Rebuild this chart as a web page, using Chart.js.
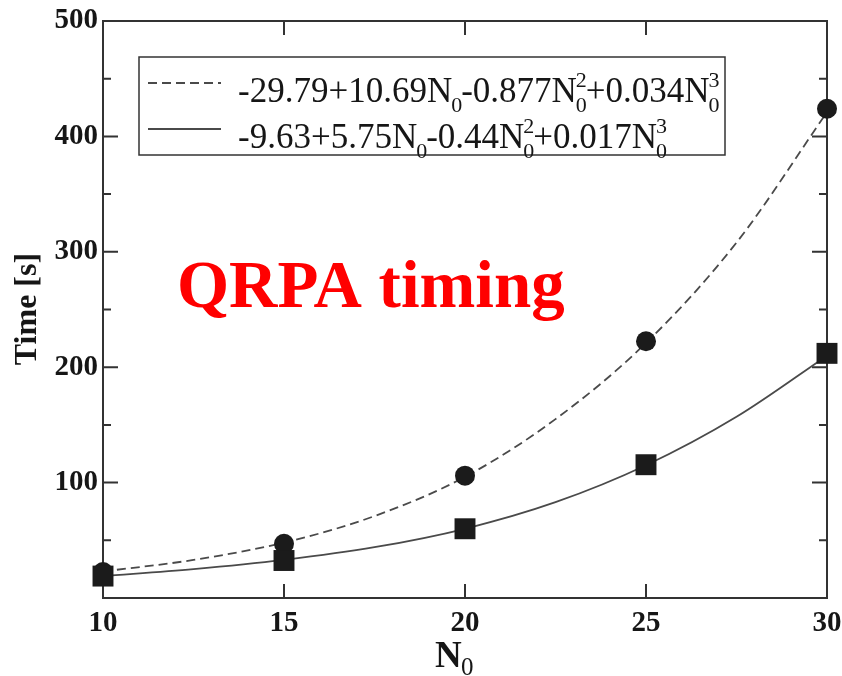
<!DOCTYPE html>
<html>
<head>
<meta charset="utf-8">
<title>QRPA timing</title>
<script src="https://cdn.jsdelivr.net/npm/chart.js@4.4.1/dist/chart.umd.min.js"></script>
<style>
  body { margin: 0; background: #ffffff; }
  #wrap { width: 842px; height: 676px; position: relative; }
</style>
</head>
<body>
<div id="wrap"><canvas id="timing"></canvas></div>
<script>
// measured run times
const n0 = [10, 15, 20, 25, 30];
const timeCircles = [22.5, 47, 106, 222.5, 424];
const timeSquares = [19, 32.5, 60, 115.5, 212];

// fitted cubic curves, read every 2.5 in N0
const fitN0 = [10, 12.5, 15, 17.5, 20, 22.5, 25, 27.5, 30];
const fitDashed = [23, 33, 48, 71, 105, 155, 221, 308, 421];
const fitSolid = [19, 25, 33, 44, 60, 83, 115, 157, 210];

const xTicks = [10, 15, 20, 25, 30];
const yTicks = [100, 200, 300, 400, 500];
const yMinor = [50, 150, 250, 350, 450];

// legend text pieces: [text, subscript, superscript]
const legendRows = [
  [['-29.79+10.69N', '0'], ['-0.877N', '0', '2'], ['+0.034N', '0', '3']],
  [['-9.63+5.75N', '0'], ['-0.44N', '0', '2'], ['+0.017N', '0', '3']]
];
const legendDash = [[9, 5], []];

const INK = '#161616';
const LINE = '#4a4a4a';
const SERIF = '"Liberation Serif", "Times New Roman", serif';

const pts = (xs, ys) => xs.map((x, i) => ({ x: x, y: ys[i] }));

// frame, inner ticks, legend box and the extra labels
const decor = {
  id: 'decor',
  beforeDatasetsDraw(chart) {
    const { ctx, chartArea: a, scales: { x, y } } = chart;
    ctx.save();
    ctx.strokeStyle = '#333';
    ctx.lineWidth = 2;
    ctx.strokeRect(a.left, a.top, a.right - a.left, a.bottom - a.top);
    ctx.beginPath();
    yTicks.forEach(v => {
      const py = y.getPixelForValue(v);
      ctx.moveTo(a.left, py); ctx.lineTo(a.left + 15, py);
      ctx.moveTo(a.right, py); ctx.lineTo(a.right - 15, py);
    });
    yMinor.forEach(v => {
      const py = y.getPixelForValue(v);
      ctx.moveTo(a.left, py); ctx.lineTo(a.left + 8, py);
      ctx.moveTo(a.right, py); ctx.lineTo(a.right - 8, py);
    });
    xTicks.slice(1, -1).forEach(v => {
      const px = x.getPixelForValue(v);
      ctx.moveTo(px, a.bottom); ctx.lineTo(px, a.bottom - 14);
      ctx.moveTo(px, a.top); ctx.lineTo(px, a.top + 14);
    });
    ctx.stroke();
    ctx.restore();
  },
  afterDraw(chart) {
    const ctx = chart.ctx;
    ctx.save();

    // legend
    ctx.fillStyle = '#fff';
    ctx.fillRect(139, 57, 586, 98);
    ctx.strokeStyle = '#333';
    ctx.lineWidth = 1.5;
    ctx.strokeRect(139, 57, 586, 98);

    const bases = [102, 148];
    legendRows.forEach((row, r) => {
      const base = bases[r];
      ctx.strokeStyle = LINE;
      ctx.lineWidth = 1.8;
      ctx.setLineDash(legendDash[r]);
      ctx.beginPath();
      ctx.moveTo(148, base - 19);
      ctx.lineTo(221, base - 19);
      ctx.stroke();
      ctx.setLineDash([]);

      ctx.fillStyle = INK;
      ctx.textAlign = 'left';
      ctx.textBaseline = 'alphabetic';
      let px = 238;
      row.forEach(([txt, sub, sup]) => {
        ctx.font = '35px ' + SERIF;
        ctx.fillText(txt, px, base);
        px += ctx.measureText(txt).width - 1;
        ctx.font = '22px ' + SERIF;
        let w = 0;
        if (sub) { ctx.fillText(sub, px, base + 10); w = ctx.measureText(sub).width; }
        if (sup) { ctx.fillText(sup, px, base - 15); w = Math.max(w, ctx.measureText(sup).width); }
        px += w - 1;
      });
    });

    // axis titles
    ctx.fillStyle = INK;
    ctx.font = 'bold 37px ' + SERIF;
    ctx.fillText('N', 435, 667);
    ctx.font = '25px ' + SERIF;
    ctx.fillText('0', 461, 675);

    ctx.save();
    ctx.translate(28, 309);
    ctx.rotate(-Math.PI / 2);
    ctx.textAlign = 'center';
    ctx.textBaseline = 'middle';
    ctx.font = 'bold 32px ' + SERIF;
    ctx.fillText('Time [s]', 0, 0);
    ctx.restore();

    // red caption
    ctx.fillStyle = '#ff0000';
    ctx.font = 'bold 67px ' + SERIF;
    ctx.textAlign = 'left';
    ctx.fillText('QRPA timing', 177, 307);

    ctx.restore();
  }
};

const tickFont = { family: SERIF, size: 29, weight: 'bold' };

new Chart(document.getElementById('timing'), {
  type: 'line',
  data: {
    datasets: [
      {
        data: pts(n0, timeCircles),
        showLine: false,
        pointStyle: 'circle',
        pointRadius: 10,
        pointBorderWidth: 0,
        backgroundColor: '#1b1b1b',
        borderColor: '#1b1b1b',
        clip: false,
        order: 1
      },
      {
        data: pts(n0, timeSquares),
        showLine: false,
        pointStyle: 'rect',
        pointRadius: 14.8,
        pointBorderWidth: 0,
        backgroundColor: '#1b1b1b',
        borderColor: '#1b1b1b',
        clip: false,
        order: 0
      },
      {
        data: pts(fitN0, fitDashed),
        borderColor: LINE,
        borderWidth: 1.8,
        borderDash: [9, 5],
        pointRadius: 0,
        cubicInterpolationMode: 'monotone',
        clip: false,
        order: 2
      },
      {
        data: pts(fitN0, fitSolid),
        borderColor: LINE,
        borderWidth: 1.8,
        pointRadius: 0,
        cubicInterpolationMode: 'monotone',
        clip: false,
        order: 2
      }
    ]
  },
  options: {
    animation: false,
    responsive: true,
    maintainAspectRatio: false,
    layout: { padding: { top: 21, right: 15, left: 0, bottom: 0 } },
    plugins: { legend: { display: false }, tooltip: { enabled: false } },
    scales: {
      x: {
        type: 'linear',
        min: 10,
        max: 30,
        afterBuildTicks: s => { s.ticks = xTicks.map(v => ({ value: v })); },
        afterFit: s => { s.height = 78; s.paddingLeft = 0; s.paddingRight = 0; },
        grid: { display: false, drawTicks: false },
        border: { display: false },
        ticks: { font: tickFont, color: INK, padding: 8, maxRotation: 0 }
      },
      y: {
        min: 0,
        max: 500,
        afterBuildTicks: s => { s.ticks = yTicks.map(v => ({ value: v })); },
        afterFit: s => { s.width = 103; s.paddingTop = 0; s.paddingBottom = 0; },
        grid: { display: false, drawTicks: false },
        border: { display: false },
        ticks: { font: tickFont, color: INK, padding: 5 }
      }
    }
  },
  plugins: [decor]
});
</script>
</body>
</html>
